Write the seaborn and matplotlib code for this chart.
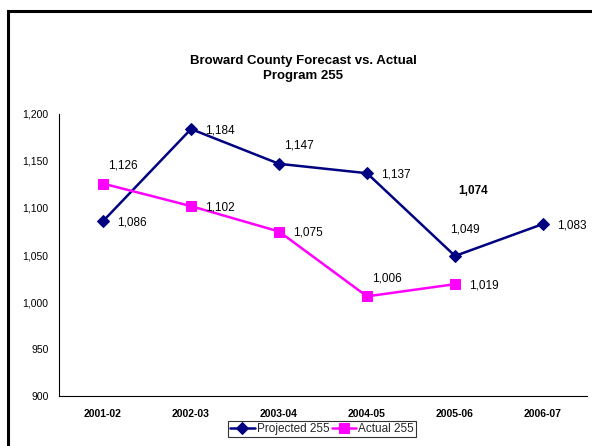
import numpy as np
import pandas as pd
import seaborn as sns
import matplotlib.pyplot as plt
import matplotlib.ticker as ticker
from matplotlib.patches import Rectangle

years = ['2001-02', '2002-03', '2003-04', '2004-05', '2005-06', '2006-07']
projected = [1086, 1184, 1147, 1137, 1049, 1083]
actual = [1126, 1102, 1075, 1006, 1019]
extra_label = 1074

sns.set_style('white')
plt.rcParams['font.family'] = ['Liberation Sans', 'DejaVu Sans']

fig = plt.figure(figsize=(5.92, 4.46), dpi=100)
ax = fig.add_axes([0.0997, 0.1121, 0.8919, 0.6323])

# figure frame (left and top edges visible)
fig.patches.append(Rectangle((7.5 / 592, -0.05), 1.2, 1 - 11 / 446 + 0.05,
                             transform=fig.transFigure, fill=False,
                             edgecolor='black', linewidth=2.2, zorder=0))

df_p = pd.DataFrame({'x': np.arange(len(projected)), 'y': projected})
df_a = pd.DataFrame({'x': np.arange(len(actual)), 'y': actual})

sns.lineplot(data=df_p, x='x', y='y', ax=ax, color='#000080', linewidth=1.8,
             marker='D', markersize=6, markeredgecolor='#000080',
             label='Projected 255')
sns.lineplot(data=df_a, x='x', y='y', ax=ax, color='#FF00FF', linewidth=1.8,
             marker='s', markersize=7.5, markeredgecolor='#FF00FF',
             label='Actual 255')

# label offsets in points: right of point, or above and a bit right
R, U, U2 = (10, -1), (14, 13), (7, 19)
p_off = [R, R, U, R, U2, R]
a_off = [U, R, R, U, R]
for vals, offs in ((projected, p_off), (actual, a_off)):
    for i, (v, off) in enumerate(zip(vals, offs)):
        ha = 'left' if off == R else 'center'
        ax.annotate(f'{v:,}', (i, v), xytext=off, textcoords='offset points',
                    ha=ha, va='center', fontsize=8.5, color='black')

ax.text(4.2, 1118, f'{extra_label:,}', ha='center', va='center',
        fontsize=8.5, fontweight='bold', color='black')

ax.set_xlim(-0.5, len(years) - 0.5)
ax.set_ylim(900, 1200)
ax.yaxis.set_major_locator(ticker.MultipleLocator(50))
ax.yaxis.set_major_formatter(ticker.StrMethodFormatter('{x:,.0f}'))
ax.set_xticks(range(len(years)))
ax.set_xticklabels(years, fontweight='bold')
ax.set_xticks(np.arange(-0.5, len(years)), minor=True)
ax.tick_params(axis='x', which='major', length=0, labelsize=7.5, pad=9,
               labelcolor='black')
ax.tick_params(axis='x', which='minor', length=4, direction='out', width=0.8)
ax.tick_params(axis='y', length=4, direction='out', width=0.8, labelsize=7.5,
               labelcolor='black')
ax.set_xlabel('')
ax.set_ylabel('')
for s in ['top', 'right']:
    ax.spines[s].set_visible(False)
for s in ['left', 'bottom']:
    ax.spines[s].set_color('black')
    ax.spines[s].set_linewidth(0.8)

fig.text(0.512, 0.846, 'Broward County Forecast vs. Actual\nProgram 255',
         ha='center', va='center', fontsize=9.5, fontweight='bold',
         linespacing=1.35, color='black')

ax.legend(loc='center', bbox_to_anchor=(322 / 592, 17 / 446),
          bbox_transform=fig.transFigure, ncol=2, fontsize=8.5, frameon=True,
          fancybox=False, edgecolor='black', borderpad=0.2,
          handlelength=2.1, columnspacing=0.2, handletextpad=0.15)
ax.get_legend().get_frame().set_linewidth(0.8)

fig.savefig('out.png', dpi=100)
